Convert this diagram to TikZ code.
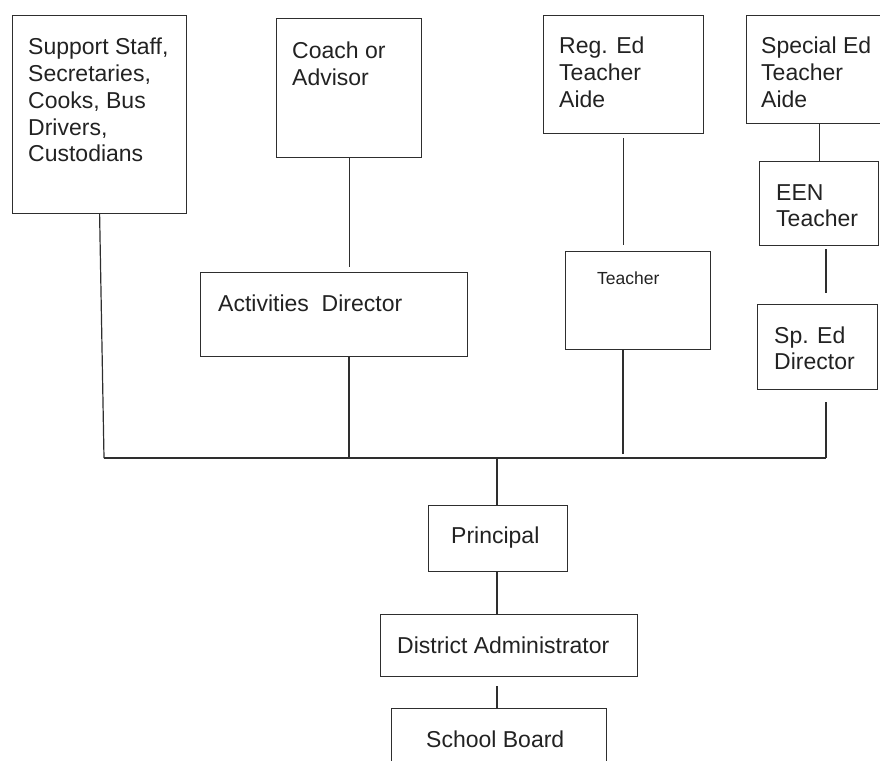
\documentclass[tikz,border=0pt]{standalone}
\usepackage{fontspec}
\setmainfont{Liberation Sans}
\definecolor{ink}{HTML}{222222}
\definecolor{edge}{HTML}{2E2E2E}
\newcommand{\ml}[1]{\begin{tabular}[t]{@{}l@{}}#1\end{tabular}}
\begin{document}
\begin{tikzpicture}[x=1pt,y=-1pt,
  box/.style={draw=edge, line width=1.2pt, rectangle, inner sep=0pt, anchor=north west},
  lbl/.style={anchor=base west, inner sep=0pt, text=ink, font=\fontsize{23}{26.7}\selectfont},
  conn/.style={draw=edge, line width=1.2pt}]
\useasboundingbox (0,0) rectangle (880,760);
% boxes
\node[box, minimum width=174, minimum height=198] (sup) at (12,15) {};
\node[box, minimum width=145, minimum height=139] (coach) at (276,18) {};
\node[box, minimum width=160, minimum height=118] (rega) at (543,15) {};
\node[box, minimum width=136, minimum height=108] (spa) at (746,15) {};
\node[box, minimum width=119, minimum height=84] (een) at (759,161) {};
\node[box, minimum width=267, minimum height=84] (act) at (200,272) {};
\node[box, minimum width=145, minimum height=98] (teach) at (565,251) {};
\node[box, minimum width=120, minimum height=85] (sped) at (757,304) {};
\node[box, minimum width=139, minimum height=66] (prin) at (428,505) {};
\node[box, minimum width=257, minimum height=62] (dist) at (380,614) {};
\node[box, minimum width=215, minimum height=70] (board) at (391,708) {};
% labels
\node[lbl] (tsup) at (28,55) {\ml{Support Staff,\\Secretaries,\\Cooks, Bus\\Drivers,\\Custodians}};
\node[lbl] (tcoach) at (292,59) {\ml{Coach or\\Advisor}};
\node[lbl] (trega) at (559,54) {\ml{Reg. Ed\\Teacher\\Aide}};
\node[lbl] (tspa) at (761,54) {\ml{Special Ed\\Teacher\\Aide}};
\node[lbl] (teen) at (776,200) {\ml{EEN\\Teacher}};
\node[lbl] (tact) at (218,311) {Activities\ \ Director};
\node[lbl, font=\fontsize{17.5}{21}\selectfont] (tteach) at (597,284) {Teacher};
\node[lbl] (tsped) at (774,343) {\ml{Sp. Ed\\Director}};
\node[lbl] (tprin) at (451,543) {Principal};
\node[lbl] (tdist) at (397,653) {District Administrator};
\node[lbl] (tboard) at (426,747) {School Board};
% bus
\coordinate (busL) at (104,458);
\coordinate (busR) at (826,458);
\coordinate (busA) at (349,458);
\coordinate (busT) at (623,458);
\coordinate (busP) at (497,458);
\draw[conn] (busL) -- (busR);
% connectors
\draw[conn] (sup.south) -- (busL);
\draw[conn, shorten >=5pt] (coach.south) -- (coach.south |- act.north);
\draw[conn] (busA) -- (busA |- act.south);
\draw[conn, shorten <=4pt, shorten >=6pt] (rega.south) -- (rega.south |- teach.north);
\draw[conn, shorten <=4pt] (busT) -- (busT |- teach.south);
\draw[conn] (een.north) -- (een.north |- spa.south);
\draw[conn, shorten <=3pt, shorten >=11pt] (busR |- een.south) -- (busR |- sped.north);
\draw[conn, shorten <=12pt] (busR |- sped.south) -- (busR);
\draw[conn] (busP) -- (busP |- prin.north);
\draw[conn] (busP |- prin.south) -- (busP |- dist.north);
\draw[conn, shorten <=9pt] (busP |- dist.south) -- (busP |- board.north);
\end{tikzpicture}
\end{document}
